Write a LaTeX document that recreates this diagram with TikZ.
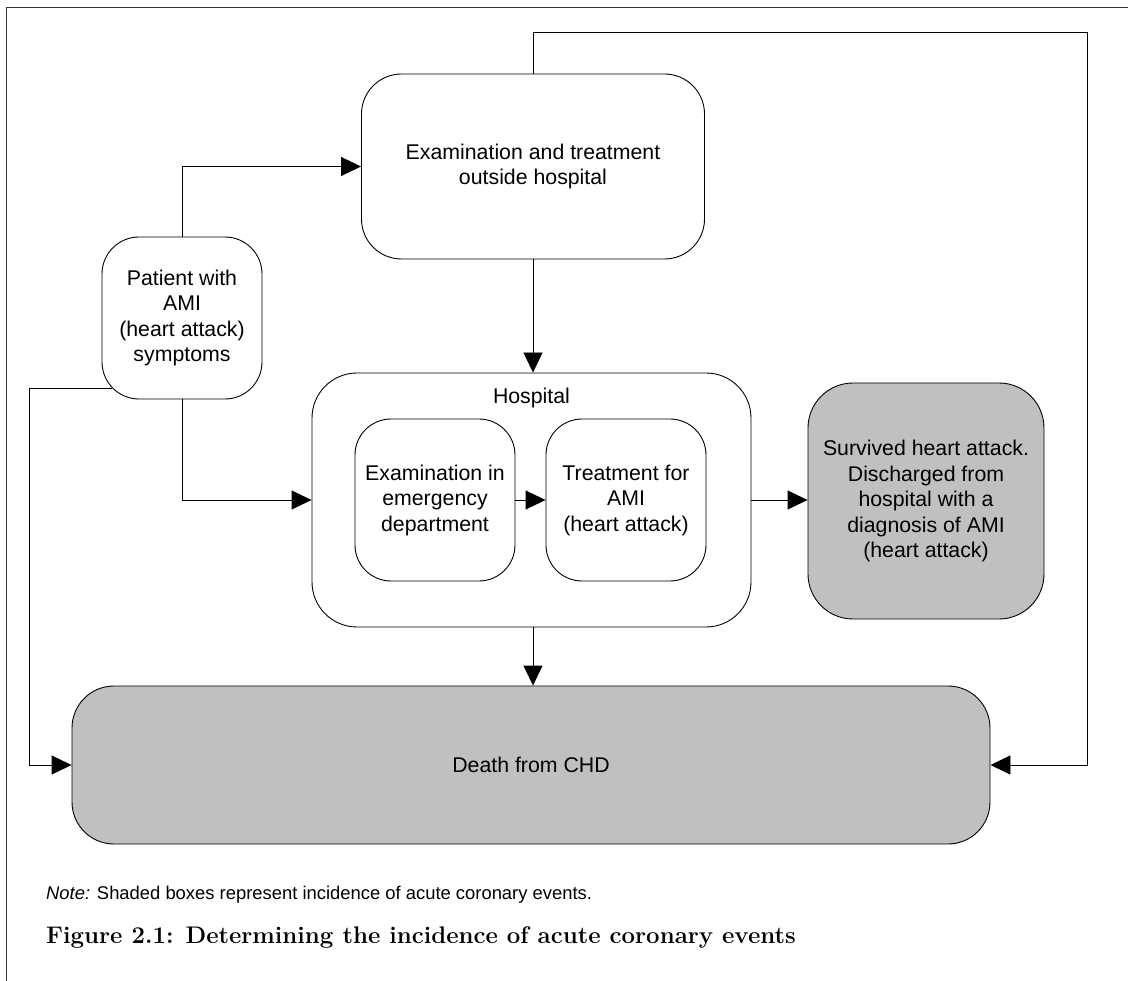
\documentclass[tikz,border=0pt]{standalone}
\usepackage{fontspec}
\newfontfamily\arialf{Liberation Sans}
\usetikzlibrary{arrows.meta,calc}
\definecolor{boxgray}{HTML}{C0C0C0}
\begin{document}
\begin{tikzpicture}[x=1pt,y=-1pt,
  box/.style={draw=black, line width=0.9pt, rounded corners=#1, align=center,
    inner sep=0pt, font=\arialf\fontsize{21.3}{25.5}\selectfont},
  box/.default=38pt,
  shaded/.style={fill=boxgray},
  conn/.style={line width=0.9pt, -{Triangle[length=20pt,width=19pt]}},
  frameline/.style={line width=1pt, draw=black!80}]
\useasboundingbox (0,0) rectangle (1128,981);
\draw[frameline] (1128,8) -- (6,8) -- (6,981);

\node[box=40pt, minimum width=343pt, minimum height=185pt] (outside) at (533,166.5)
  {Examination and treatment\\outside hospital};
\node[box=37pt, minimum width=160pt, minimum height=162pt] (patient) at (182,318)
  {Patient with\\AMI\\(heart attack)\\symptoms};
\node[box=45pt, minimum width=439pt, minimum height=254pt] (hospital) at (531.5,500) {};
\node[inner sep=0pt, font=\arialf\fontsize{21.3}{25.5}\selectfont] (hlabel) at (531.5,398) {Hospital};
\node[box=36pt, minimum width=160pt, minimum height=162pt] (ed) at (435,500)
  {Examination in\\emergency\\department};
\node[box=36pt, minimum width=160pt, minimum height=162pt] (treat) at (626,500)
  {Treatment for\\AMI\\(heart attack)};
\node[box=45pt, shaded, minimum width=236pt, minimum height=236pt] (survived) at (926,501)
  {Survived heart attack.\\Discharged from\\hospital with a\\diagnosis of AMI\\(heart attack)};
\node[box=42pt, shaded, minimum width=918pt, minimum height=158pt] (death) at (531,765)
  {Death from CHD};

\draw[conn] (patient.north) |- (outside.west);
\draw[conn] (patient.south) |- (hospital.west);
\draw[conn] (outside.south) -- (outside.south |- hospital.north);
\draw[conn] (ed.east) -- (treat.west);
\draw[conn] (hospital.east) -- (hospital.east -| survived.west);
\draw[conn] (outside.south |- hospital.south) -- (outside.south |- death.north);
\coordinate (pl) at ($(patient.south west)+(10.7,-11)$);
\coordinate (lc) at ($(pl)+(-82.7,0)$);
\draw[conn] (pl) -- (lc) |- (death.west);
\coordinate (fb) at (1087,32);
\draw[conn] (outside.north) |- (fb) |- (death.east);

\node[anchor=base west, inner sep=0pt, font=\arialf\fontsize{18.4}{22}\selectfont] (note) at (46,899)
  {{\itshape Note:} Shaded boxes represent incidence of acute coronary events.};
\node[anchor=base west, inner sep=0pt, font=\fontsize{24}{28}\selectfont\bfseries] (caption) at (46,943)
  {Figure 2.1: Determining the incidence of acute coronary events};
\end{tikzpicture}
\end{document}
